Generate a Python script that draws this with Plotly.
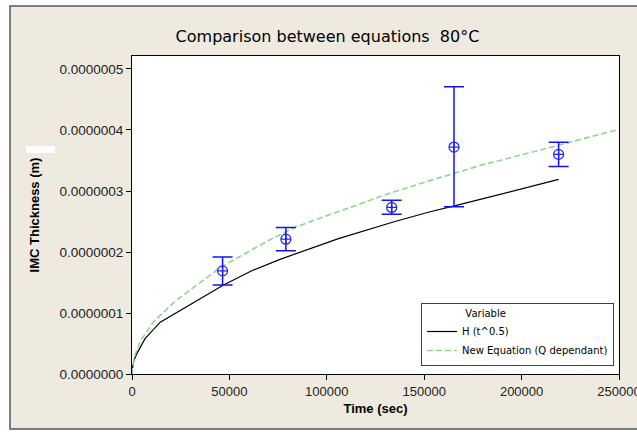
import plotly.graph_objects as go

# H (t^0.5) curve
time_h = [0, 100, 1000, 2400, 6700, 14500, 47000, 62000, 76000, 106000, 135000, 153000, 166000, 219000]
thick_h = [0, 0.07e-7, 0.22e-7, 0.33e-7, 0.58e-7, 0.85e-7, 1.46e-7, 1.70e-7, 1.88e-7, 2.22e-7,
           2.50e-7, 2.66e-7, 2.76e-7, 3.19e-7]

# New Equation (Q dependant) curve
time_q = [0, 100, 1500, 4100, 10900, 22000, 46000, 70800, 84000, 106000, 132000, 153000, 180000, 219000, 250000]
thick_q = [0, 0.08e-7, 0.31e-7, 0.53e-7, 0.85e-7, 1.19e-7, 1.76e-7, 2.20e-7, 2.41e-7, 2.66e-7,
           2.96e-7, 3.17e-7, 3.43e-7, 3.75e-7, 4.01e-7]

# measured points with error bars
meas_t = [46500, 79000, 133300, 165300, 219000]
meas_h = [1.69e-7, 2.21e-7, 2.73e-7, 3.72e-7, 3.60e-7]
meas_hi = [1.92e-7, 2.40e-7, 2.85e-7, 4.71e-7, 3.80e-7]
meas_lo = [1.46e-7, 2.02e-7, 2.62e-7, 2.74e-7, 3.40e-7]

x_ticks = [0, 50000, 100000, 150000, 200000, 250000]
y_ticks = [0, 1e-7, 2e-7, 3e-7, 4e-7, 5e-7]
y_tick_text = ["0.0000000", "0.0000001", "0.0000002", "0.0000003", "0.0000004", "0.0000005"]

err_plus = [h - m for h, m in zip(meas_hi, meas_h)]
err_minus = [m - l for m, l in zip(meas_h, meas_lo)]

fig = go.Figure()
fig.add_trace(go.Scatter(
    x=time_h, y=thick_h, mode="lines", name="H (t^0.5)",
    line=dict(color="black", width=1.2),
))
fig.add_trace(go.Scatter(
    x=time_q, y=thick_q, mode="lines", name="New Equation (Q dependant)",
    line=dict(color="#8ED68E", width=1.6, dash="6px,3px"),
))
fig.add_trace(go.Scatter(
    x=meas_t, y=meas_h, mode="markers", showlegend=False,
    marker=dict(symbol="circle-cross-open", size=10, color="#2020FF", line=dict(width=1.2)),
    error_y=dict(type="data", symmetric=False, array=err_plus, arrayminus=err_minus,
                 color="#1010FF", thickness=1.5, width=10),
))

L, R, T, B = 132, 18, 56, 58
W, H = 637, 432
pw, ph = W - L - R, H - T - B


def px(x):
    return (x - L) / pw


def py(y):
    return (H - B - y) / ph


fig.update_layout(
    width=W, height=H,
    margin=dict(l=L, r=R, t=T, b=B, autoexpand=False),
    paper_bgcolor="white",
    plot_bgcolor="rgba(0,0,0,0)",
    title=dict(text="Comparison between equations  80°C", x=327.5 / W, xanchor="center",
               y=1 - 36 / H, yanchor="middle",
               font=dict(family="DejaVu Sans", size=16, color="black")),
    font=dict(family="Liberation Sans", size=13, color="#222222"),
    xaxis=dict(range=[0, 250000], tickvals=x_ticks, ticktext=[str(v) for v in x_ticks],
               showgrid=False, zeroline=False, showline=True, linecolor="black", linewidth=1,
               mirror=True, ticks="outside", ticklen=5, tickcolor="black",
               tickfont=dict(size=13), ticklabeloverflow="allow",
               title=dict(text="<b>Time (sec)</b>", standoff=6,
                          font=dict(family="Liberation Sans", size=13, color="black"))),
    yaxis=dict(range=[0, 5.213e-7], tickvals=y_ticks, ticktext=y_tick_text,
               showgrid=False, zeroline=False, showline=True, linecolor="black", linewidth=1,
               mirror=True, ticks="outside", ticklen=5, tickcolor="black",
               tickfont=dict(size=13.5),
               title=dict(text="<b>IMC Thickness (m)</b>", standoff=16,
                          font=dict(family="Liberation Sans", size=13, color="black"))),
    legend=dict(x=px(421), y=py(303), xanchor="left", yanchor="top",
                bgcolor="white", bordercolor="#404040", borderwidth=1,
                font=dict(family="DejaVu Sans", size=10, color="black"),
                title=dict(text="\u00a0" * 13 + "Variable",
                           font=dict(family="DejaVu Sans", size=10, color="black")),
                itemwidth=30, tracegroupgap=0),
    shapes=[
        dict(type="rect", xref="paper", yref="paper", layer="below",
             x0=px(10), x1=px(645), y0=py(429), y1=py(6),
             fillcolor="#EEEAE0", line=dict(color="#555555", width=1.5)),
        dict(type="rect", xref="paper", yref="paper", layer="below",
             x0=0, x1=1, y0=0, y1=1, fillcolor="white", line=dict(width=0)),
        dict(type="rect", xref="paper", yref="paper", layer="above",
             x0=px(26), x1=px(55), y0=py(153), y1=py(146),
             fillcolor="white", line=dict(width=0)),
    ],
)

fig.write_html("out.html", config={"displayModeBar": False},
               post_script="document.body.style.margin='0';")
